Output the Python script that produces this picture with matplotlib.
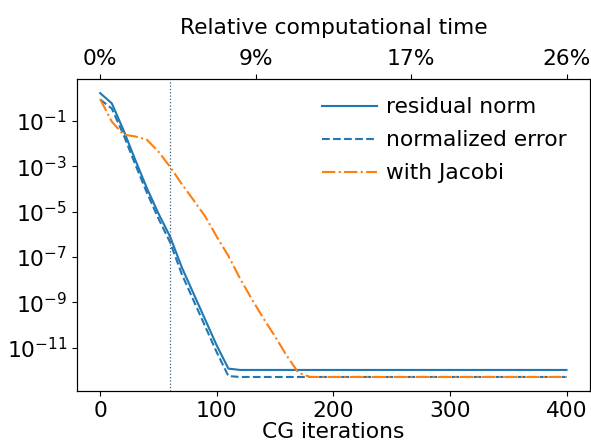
import matplotlib
matplotlib.use("Agg")
import matplotlib.pyplot as plt
import numpy as np

plt.rcParams['font.size'] = 15.7

# values (log10 of the plotted quantity)
it_res = [0, 10, 20, 30, 40, 50, 60, 70, 80, 90, 100, 110, 120, 400]
log_res = [0.23, -0.22, -1.4, -2.7, -3.95, -5.08, -6.1, -7.45, -8.6, -9.75,
           -10.9, -11.92, -11.98, -11.98]

it_err = [0, 10, 20, 30, 40, 50, 60, 70, 80, 90, 100, 110, 120, 400]
log_err = [-0.05, -0.45, -1.6, -2.9, -4.15, -5.3, -6.35, -7.75, -8.9, -10.05,
           -11.2, -12.25, -12.29, -12.29]

it_jac = [0, 10, 20, 30, 40, 50, 60, 70, 80, 90, 100, 110, 120, 130, 140,
          150, 160, 170, 180, 400]
log_jac = [-0.03, -1.03, -1.6, -1.68, -1.82, -2.35, -3.02, -3.78, -4.48, -5.2,
           -6.1, -6.95, -7.95, -8.85, -9.7, -10.5, -11.35, -12.1, -12.29, -12.29]

marker_iter = 60
time_ticks = [0, 400 / 3, 800 / 3, 400]
time_labels = ['0%', '9%', '17%', '26%']
ytick_exp = [-1, -3, -5, -7, -9, -11]

fig = plt.figure(figsize=(5.91, 4.41), dpi=100)
ax = fig.add_axes([0.130, 0.113, 0.868, 0.708])

ax.semilogy(it_res, 10.0 ** np.array(log_res), color='C0', label='residual norm')
ax.semilogy(it_err, 10.0 ** np.array(log_err), color='C0', linestyle='--',
            label='normalized error')
ax.semilogy(it_jac, 10.0 ** np.array(log_jac), color='C1', linestyle='-.',
            label='with Jacobi')
ax.axvline(marker_iter, color='#3a5f80', linestyle=':', linewidth=0.9)

ax.set_yticks([10.0 ** e for e in ytick_exp])
ax.yaxis.set_minor_locator(matplotlib.ticker.NullLocator())
ax.set_xlabel('CG iterations', labelpad=1)
ax.legend(loc='upper right', bbox_to_anchor=(0.984, 0.99), frameon=False,
          handlelength=2.5, handletextpad=0.4, labelspacing=0.6,
          borderaxespad=0.3)

ax2 = ax.twiny()
ax2.set_xlim(ax.get_xlim())
ax2.set_xticks(time_ticks)
ax2.set_xticklabels(time_labels)
ax2.set_xlabel('Relative computational time', labelpad=11)

fig.savefig('out.png', dpi=100)
